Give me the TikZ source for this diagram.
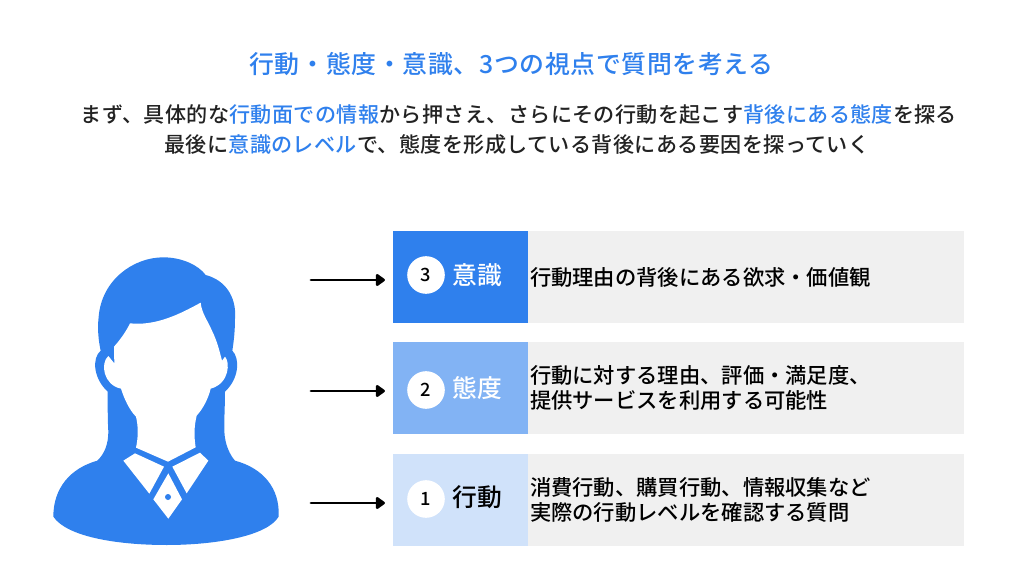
\documentclass[tikz,border=0pt]{standalone}
\usepackage{fontspec}
\setmainfont{Noto Sans CJK JP Medium}
\newfontfamily\wideface[LetterSpace=1.8]{Noto Sans CJK JP Medium}
\newfontfamily\titleface[LetterSpace=2.6]{Noto Sans CJK JP Medium}
\usetikzlibrary{arrows.meta, positioning}
\definecolor{mainblue}{HTML}{2F80ED}
\definecolor{midblue}{HTML}{82B3F4}
\definecolor{paleblue}{HTML}{D0E2FA}
\definecolor{panelgray}{HTML}{F0F0F0}
\definecolor{inktext}{HTML}{222222}
\tikzset{
	labelbox/.style={minimum width=3.375cm, minimum height=2.3cm, inner sep=0pt, outer sep=0pt},
	detailbox/.style={fill=panelgray, minimum width=10.9cm, minimum height=2.3cm, text width=10.8cm, inner sep=0.05cm, outer sep=0pt, align=left, text=black, font=\fontsize{15.15}{17.3}\selectfont},
	numdot/.style={circle, fill=white, minimum size=0.94cm, inner sep=0pt, text=black, font=\fontsize{13}{14}\selectfont},
	rowname/.style={font=\fontsize{17.6}{20}\selectfont},
	flow/.style={-{Triangle[length=0.25cm,width=0.34cm,round]}, line width=2.1pt, shorten >=0.2cm, line cap=round},
	subline/.style={text=inktext, font=\wideface\fontsize{15}{20}\selectfont},
}
\begin{document}
\begin{tikzpicture}[x=0.025cm,y=-0.025cm]
	\useasboundingbox (0,0) rectangle (1024,576);
	\fill[white] (0,0) rectangle (1024,576);
	% heading
	\node[text=mainblue, font=\titleface\fontsize{17.7}{20}\selectfont] (title) at (511.5,64) {行動・態度・意識、3つの視点で質問を考える};
	\node[subline] (line1) at (519,115) {まず、具体的な\textcolor{mainblue}{行動面での情報}から押さえ、さらにその行動を起こす\textcolor{mainblue}{背後にある態度}を探る};
	\node[subline] (line2) at (517,145) {最後に\textcolor{mainblue}{意識のレベル}で、態度を形成している背後にある要因を探っていく};
	% rows
	\node[labelbox, fill=mainblue] (lab3) at (460.5,277) {};
	\node[labelbox, fill=midblue, below=0.475cm of lab3] (lab2) {};
	\node[labelbox, fill=paleblue, below=0.5cm of lab2] (lab1) {};
	\node[detailbox, right=0pt of lab3] (info3) {\raisebox{1.4pt}{行動理由の背後にある欲求・価値観}};
	\node[detailbox, right=0pt of lab2] (info2) {行動に対する理由、評価・満足度、\\提供サービスを利用する可能性};
	\node[detailbox, right=0pt of lab1] (info1) {消費行動、購買行動、情報収集など\\実際の行動レベルを確認する質問};
	\node[numdot] (dot3) at (426,275) {3};
	\node[numdot] (dot2) at (426,390) {2};
	\node[numdot] (dot1) at (426,499) {1};
	\node[rowname, text=white] (name3) at (477,275) {意識};
	\node[rowname, text=white] (name2) at (477,388) {態度};
	\node[rowname, text=black] (name1) at (477,497) {行動};
	% arrows
	\coordinate (from3) at (311,280);
	\coordinate (from2) at (311,391);
	\coordinate (from1) at (311,503);
	\draw[flow] (from3) -- (from3 -| lab3.west);
	\draw[flow] (from2) -- (from2 -| lab2.west);
	\draw[flow] (from1) -- (from1 -| lab1.west);
	% person
	\begin{scope}[shift={(40,250)},x=0.00833cm,y=-0.00833cm]
		\fill[mainblue] (370,22) .. controls (425,22) and (475,45) .. (497,75)
			.. controls (555,90) and (590,140) .. (585,205)
			.. controls (585,240) and (582,270) .. (577,302)
			.. controls (600,325) and (598,385) .. (555,425)
			.. controls (555,470) and (552,510) .. (553,545)
			.. controls (555,585) and (570,615) .. (585,632)
			.. controls (670,655) and (720,715) .. (716,800)
			.. controls (680,860) and (520,885) .. (380,885)
			.. controls (230,885) and (80,860) .. (40,800)
			.. controls (40,715) and (90,655) .. (172,632)
			.. controls (195,610) and (205,580) .. (205,545)
			.. controls (203,510) and (203,470) .. (203,425)
			.. controls (160,385) and (155,325) .. (182,302)
			.. controls (175,270) and (172,235) .. (176,200)
			.. controls (185,90) and (280,22) .. (370,22) -- cycle;
		\fill[white] (270,220) .. controls (345,228) and (415,195) .. (482,158)
			.. controls (485,190) and (505,215) .. (515,240)
			.. controls (530,270) and (538,300) .. (546,332)
			-- (555,320)
			.. controls (570,335) and (570,400) .. (512,416)
			.. controls (505,445) and (490,475) .. (470,497)
			.. controls (462,530) and (462,560) .. (467,592)
			-- (384,635) -- (288,593)
			.. controls (295,560) and (295,530) .. (288,500)
			.. controls (268,480) and (252,445) .. (243,416)
			.. controls (190,405) and (180,340) .. (205,318)
			-- (223,340) -- (222,290)
			.. controls (240,270) and (258,245) .. (270,220) -- cycle;
		\fill[white] (250,632) -- (285,610) -- (372,650) -- (328,731) -- cycle;
		\fill[white] (397,650) -- (480,608) -- (505,632) -- (440,730) -- cycle;
		\fill[white] (385,670) -- (426,748) -- (385,806) -- (340,748) -- cycle;
		\fill[mainblue] (384,741) circle (9);
	\end{scope}
\end{tikzpicture}
\end{document}
